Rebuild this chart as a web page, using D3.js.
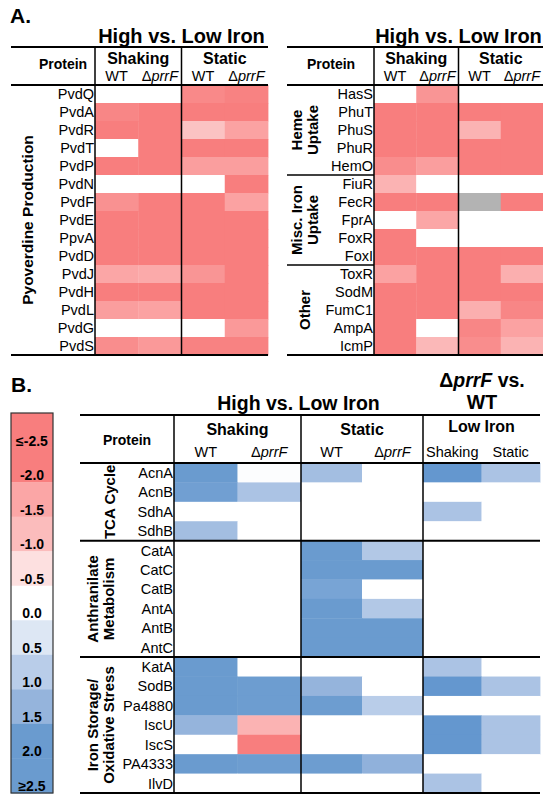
<!DOCTYPE html>
<html>
<head>
<meta charset="utf-8">
<script src="https://cdn.jsdelivr.net/npm/d3@7"></script>
<style>
body { margin: 0; background: #fff; }
text { font-family: "Liberation Sans", Arial, sans-serif; fill: #000; }
</style>
</head>
<body>
<div id="chart"></div>
<script>
// ---- data (log2 fold change, negative = red, null = no data) ----
var colsA = ["WT", "ΔprrF", "WT", "ΔprrF"];

var pyoProteins = ["PvdQ","PvdA","PvdR","PvdT","PvdP","PvdN","PvdF","PvdE","PpvA","PvdD","PvdJ","PvdH","PvdL","PvdG","PvdS"];
var pyoValues = [
    [0, 0, -2.2, -2.4],
    [-2.3, -2.5, -2.5, -2.5],
    [-2.5, -2.5, -0.9, -1.6],
    [0, -2.5, -2.5, -2.5],
    [-2.5, -2.5, -1.7, -1.7],
    [0, 0, 0, -2.5],
    [-2.0, -2.5, -2.5, -1.6],
    [-2.5, -2.5, -2.5, -2.5],
    [-2.5, -2.5, -2.5, -2.5],
    [-2.5, -2.5, -2.5, -2.5],
    [-1.5, -1.4, -1.9, -2.5],
    [-2.5, -2.5, -2.5, -2.5],
    [-1.7, -1.6, -2.5, -2.5],
    [0, 0, 0, -1.8],
    [-2.1, -1.8, -2.4, -2.4]
];

var hemeProteins = ["HasS","PhuT","PhuS","PhuR","HemO"];
var hemeValues = [
    [0, -1.9, 0, 0],
    [-2.5, -2.5, -2.5, -2.5],
    [-2.5, -2.5, -1.2, -2.5],
    [-2.5, -2.5, -2.5, -2.5],
    [-2.1, -1.7, -2.5, -2.5]
];
var miscProteins = ["FiuR","FecR","FprA","FoxR","FoxI"];
var miscValues = [
    [-1.2, 0, 0, 0],
    [-2.5, -2.5, null, -2.5],
    [0, -1.5, 0, 0],
    [-2.5, 0, 0, 0],
    [-2.5, -2.5, -2.5, -2.5]
];
var otherProteins = ["ToxR","SodM","FumC1","AmpA","IcmP"];
var otherValues = [
    [-1.6, -2.5, -2.5, -1.3],
    [-2.5, -2.5, -2.5, -2.5],
    [-2.5, -2.5, -1.3, -2.3],
    [-2.5, 0, -2.3, -1.6],
    [-2.5, -1.1, -2.1, -1.2]
];

var colsB = ["WT", "ΔprrF", "WT", "ΔprrF", "Shaking", "Static"];
var tcaProteins = ["AcnA","AcnB","SdhA","SdhB"];
var tcaValues = [
    [2.5, 0.05, 1.3, 0, 2.8, 1.2],
    [2.3, 1.2, 0, 0, 0, 0],
    [0, 0, 0, 0, 1.2, 0],
    [1.3, 0, 0, 0, 0, 0]
];
var anthProteins = ["CatA","CatC","CatB","AntA","AntB","AntC"];
var anthValues = [
    [0, 0, 2.5, 1.1, 0, 0],
    [0, 0, 2.5, 2.5, 0, 0],
    [0, 0, 2.1, 0, 0, 0],
    [0, 0, 2.5, 1.1, 0, 0],
    [0, 0, 2.5, 2.5, 0, 0],
    [0, 0, 2.5, 2.5, 0, 0]
];
var stressProteins = ["KatA","SodB","Pa4880","IscU","IscS","PA4333","IlvD"];
var stressValues = [
    [2.5, 0, 0, 0, 1.2, 0],
    [2.5, 2.4, 1.5, 0, 2.8, 1.2],
    [2.5, 2.4, 2.4, 1.0, 0, 0],
    [1.5, -1.2, 0, 0, 2.8, 1.2],
    [0, -2.5, 0, 0, 2.8, 1.2],
    [2.5, 2.4, 2.4, 1.6, 0, 0],
    [0, 0, 0, 0, 1.2, 0]
];

var legendLabels = ["≤-2.5","-2.0","-1.5","-1.0","-0.5","0.0","0.5","1.0","1.5","2.0","≥2.5"];
var legendColors = ["#f87e7e","#f87e7e","#fba6a6","#fbbcbc","#fde0e0","#ffffff","#dde7f4","#b9cde9","#95b4dc","#6a9bcf","#6a9bcf"];

// ---- setup ----
var width = 543, height = 794;
var svg = d3.select("#chart").append("svg")
    .attr("width", width)
    .attr("height", height);

var color = d3.scaleLinear()
    .domain([-3, -2.5, -2, -1.5, -1, -0.5, 0, 0.5, 1, 1.5, 2, 2.5, 3])
    .range(["#f87777","#f87e7e","#f99191","#fba6a6","#fbbcbc","#fde0e0","#ffffff",
            "#dde7f4","#b9cde9","#95b4dc","#7ba6d6","#6a9bcf","#6094cf"])
    .clamp(true);

function fillOf(v) {
    return v === null ? "#b3b3b3" : color(v);
}

function hline(x1, x2, y, w) {
    svg.append("line").attr("x1", x1).attr("x2", x2).attr("y1", y).attr("y2", y)
        .attr("stroke", "#000").attr("stroke-width", w || 1.5);
}
function vline(x, y1, y2) {
    svg.append("line").attr("x1", x).attr("x2", x).attr("y1", y1).attr("y2", y2)
        .attr("stroke", "#000").attr("stroke-width", 1.5);
}

function txt(s, x, y, size, weight, anchor) {
    return svg.append("text").attr("x", x).attr("y", y)
        .attr("font-size", size).attr("font-weight", weight || "normal")
        .attr("text-anchor", anchor || "middle").text(s);
}

// label like ΔprrF with italic part
function prrf(x, y, size, weight) {
    var t = svg.append("text").attr("x", x).attr("y", y)
        .attr("font-size", size).attr("font-weight", weight || "normal")
        .attr("text-anchor", "middle");
    t.append("tspan").text("Δ");
    t.append("tspan").attr("font-style", "italic").text("prrF");
    return t;
}

function colLabel(s, x, y, size) {
    if (s === "ΔprrF") prrf(x, y, size);
    else txt(s, x, y, size);
}

function groupLabel(lines, x, yc, size) {
    var gap = 16;
    lines.forEach(function(l, i) {
        svg.append("text")
            .attr("transform", "translate(" + (x + (i - (lines.length - 1) / 2) * gap) + "," + yc + ") rotate(-90)")
            .attr("text-anchor", "middle").attr("dy", "0.35em")
            .attr("font-size", size).attr("font-weight", "bold")
            .text(l);
    });
}

function drawCells(proteins, values, xPos, xW, y, labelX) {
    var cells = [];
    proteins.forEach(function(p, i) {
        values[i].forEach(function(v, j) {
            cells.push({p: p, c: j, v: v});
        });
    });
    svg.append("g").selectAll("rect")
        .data(cells)
        .enter()
        .append("rect")
        .attr("x", function(d) { return xPos(d.c); })
        .attr("y", function(d) { return y(d.p); })
        .attr("width", function(d) { return xW(d.c) + 0.4; })
        .attr("height", y.bandwidth() + 0.4)
        .attr("fill", function(d) { return fillOf(d.v); });
    svg.append("g").selectAll("text")
        .data(proteins)
        .enter()
        .append("text")
        .attr("x", labelX)
        .attr("y", function(d) { return y(d) + y.bandwidth() / 2; })
        .attr("dy", "0.36em")
        .attr("text-anchor", "end")
        .attr("font-size", 14.5)
        .text(function(d) { return d; });
}

// ---- Panel A ----
txt("A.", 10, 23, 21, "bold", "start");

// left table
var xL = d3.scaleBand().domain(d3.range(4)).range([95, 268]);
var yL = d3.scaleBand().domain(pyoProteins).range([85, 355]);
drawCells(pyoProteins, pyoValues, function(c) { return xL(c); }, function() { return xL.bandwidth(); }, yL, 94);

txt("High vs. Low Iron", (95 + 268) / 2, 43, 20, "bold");
txt("Protein", 63, 69, 14, "bold");
txt("Shaking", (xL(0) + xL(2)) / 2, 64, 16, "bold");
txt("Static", (xL(2) + 268) / 2, 64, 16, "bold");
colsA.forEach(function(c, i) { colLabel(c, xL(i) + xL.bandwidth() / 2, 81, 14.5); });
hline(11, 268, 47, 2);
hline(11, 268, 85, 2);
hline(11, 268, 355, 2);
vline(95, 47, 355);
vline(xL(2), 47, 355);
groupLabel(["Pyoverdine Production"], 28, 220, 15.5);

// right table
var rightProteins = hemeProteins.concat(miscProteins, otherProteins);
var xR = d3.scaleBand().domain(d3.range(4)).range([374, 543]);
var yR = d3.scaleBand().domain(rightProteins).range([85, 355]);
var xRpos = function(c) { return xR(c); }, xRw = function() { return xR.bandwidth(); };
drawCells(hemeProteins, hemeValues, xRpos, xRw, yR, 373);
drawCells(miscProteins, miscValues, xRpos, xRw, yR, 373);
drawCells(otherProteins, otherValues, xRpos, xRw, yR, 373);

txt("High vs. Low Iron", (374 + 543) / 2, 43, 20, "bold");
txt("Protein", 331, 69, 14, "bold");
txt("Shaking", (xR(0) + xR(2)) / 2, 64, 16, "bold");
txt("Static", (xR(2) + 543) / 2, 64, 16, "bold");
colsA.forEach(function(c, i) { colLabel(c, xR(i) + xR.bandwidth() / 2, 81, 14.5); });
hline(287, 543, 47, 2);
hline(287, 543, 85, 2);
hline(287, 374, yR(miscProteins[0]), 1.5);
hline(287, 374, yR(otherProteins[0]), 1.5);
hline(287, 543, 355, 2);
vline(374, 47, 355);
vline(xR(2), 47, 355);
groupLabel(["Heme", "Uptake"], 305, (yR(hemeProteins[0]) + yR(miscProteins[0])) / 2, 15);
groupLabel(["Misc. Iron", "Uptake"], 305, (yR(miscProteins[0]) + yR(otherProteins[0])) / 2, 15);
groupLabel(["Other"], 305, (yR(otherProteins[0]) + 355) / 2, 15);

// ---- Panel B ----
txt("B.", 11, 392, 21, "bold", "start");

// legend
var yLeg = d3.scaleBand().domain(legendLabels).range([413, 793]);
svg.append("g").selectAll("rect")
    .data(legendLabels)
    .enter()
    .append("rect")
    .attr("x", 11)
    .attr("y", function(d) { return yLeg(d); })
    .attr("width", 42)
    .attr("height", yLeg.bandwidth() + 0.4)
    .attr("fill", function(d, i) { return legendColors[i]; });
svg.append("rect").attr("x", 11).attr("y", 413).attr("width", 42).attr("height", 380)
    .attr("fill", "none").attr("stroke", "#333").attr("stroke-width", 1.2);
svg.append("g").selectAll("text")
    .data(legendLabels)
    .enter()
    .append("text")
    .attr("x", 32)
    .attr("y", function(d) { return yLeg(d) + yLeg.bandwidth() - 2; })
    .attr("text-anchor", "middle")
    .attr("font-size", 14)
    .attr("font-weight", "bold")
    .text(function(d) { return d; });

// table B
var groupsB = ["shaking", "static", "lowiron"];
var groupEdges = d3.scaleOrdinal().domain(groupsB).range([[174, 301], [301, 423], [423, 540]]);
var subBand = groupsB.map(function(g) {
    return d3.scaleBand().domain([0, 1]).range(groupEdges(g));
});
var xBpos = function(c) { return subBand[Math.floor(c / 2)](c % 2); };
var xBw = function(c) { return subBand[Math.floor(c / 2)].bandwidth(); };
var allB = tcaProteins.concat(anthProteins, stressProteins);
var yB = d3.scaleBand().domain(allB).range([463, 793]);
drawCells(tcaProteins, tcaValues, xBpos, xBw, yB, 173);
drawCells(anthProteins, anthValues, xBpos, xBw, yB, 173);
drawCells(stressProteins, stressValues, xBpos, xBw, yB, 173);

txt("High vs. Low Iron", (174 + 423) / 2, 410, 19.5, "bold");
var t1 = prrf(482, 387, 19.5, "bold");
t1.append("tspan").text(" vs.");
txt("WT", 482, 409, 19.5, "bold");
txt("Protein", 127, 445, 14, "bold");
txt("Shaking", (174 + 301) / 2, 435, 16, "bold");
txt("Static", (301 + 423) / 2, 435, 16, "bold");
txt("Low Iron", (423 + 540) / 2, 432, 16, "bold");
colsB.forEach(function(c, i) { colLabel(c, xBpos(i) + xBw(i) / 2, 457, 14.5); });

hline(80, 540, 415, 2);
hline(80, 540, 463, 2);
hline(80, 540, yB(anthProteins[0]), 2);
hline(80, 540, yB(stressProteins[0]), 2);
hline(80, 540, 793, 2);
vline(174, 415, 793);
vline(301, 415, 793);
vline(423, 415, 793);
groupLabel(["TCA Cycle"], 110, (463 + yB(anthProteins[0])) / 2, 15);
groupLabel(["Anthranilate", "Metabolism"], 101, (yB(anthProteins[0]) + yB(stressProteins[0])) / 2, 15);
groupLabel(["Iron Storage/", "Oxidative Stress"], 101, (yB(stressProteins[0]) + 793) / 2, 15);
</script>
</body>
</html>
